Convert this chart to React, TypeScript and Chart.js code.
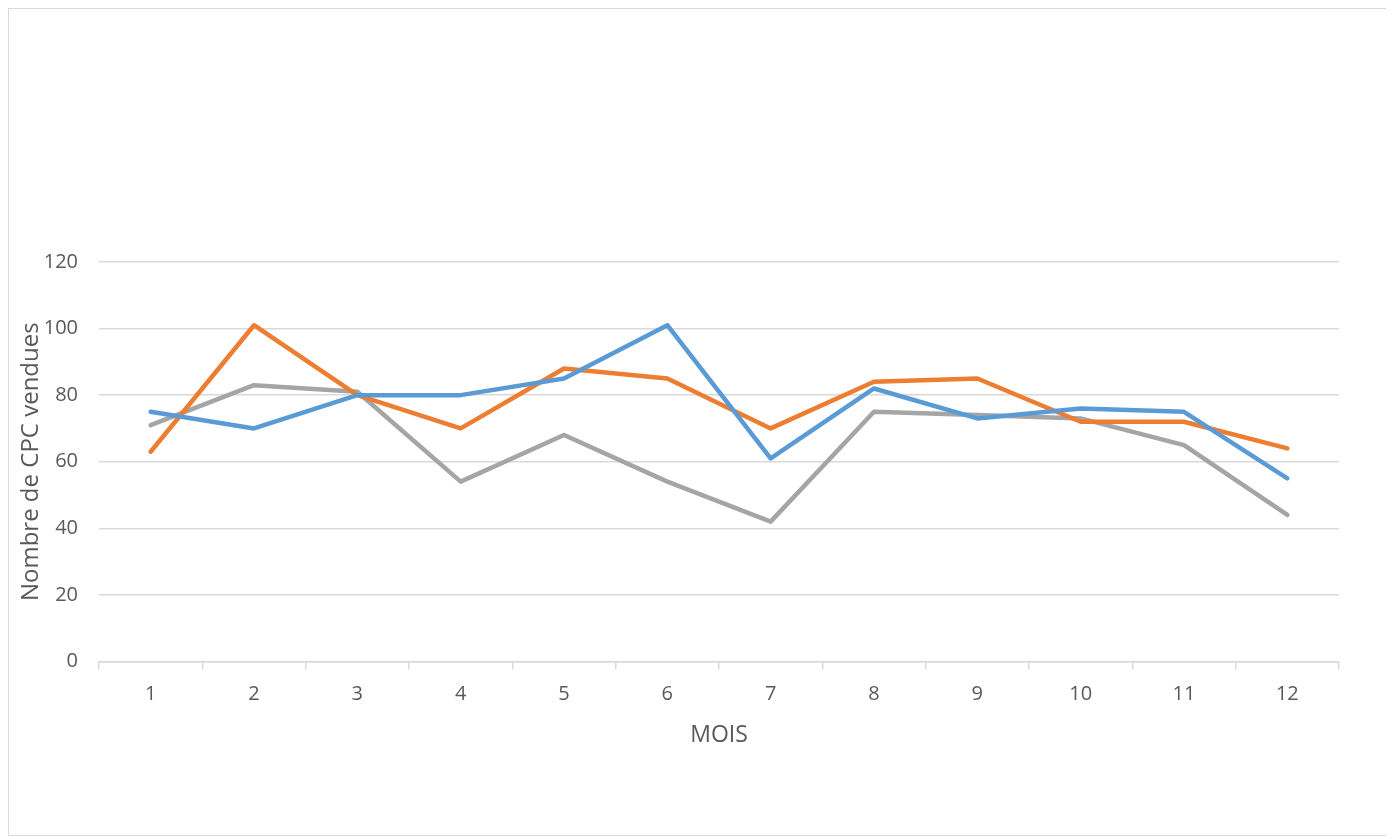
import React, { useEffect, useRef } from "react";
import { Chart, registerables } from "chart.js";

Chart.register(...registerables);

const months = ["1", "2", "3", "4", "5", "6", "7", "8", "9", "10", "11", "12"];
const seriesBlue = [75, 70, 80, 80, 85, 101, 61, 82, 73, 76, 75, 55];
const seriesOrange = [63, 101, 80, 70, 88, 85, 70, 84, 85, 72, 72, 64];
const seriesGray = [71, 83, 81, 54, 68, 54, 42, 75, 74, 73, 65, 44];
const yTitle = "Nombre de CPC vendues";
const xTitle = "MOIS";

export default function App() {
  const ref = useRef<HTMLCanvasElement | null>(null);
  useEffect(() => {
    if (!ref.current) return;
    const family = "'Open Sans', 'Liberation Sans', sans-serif";
    const tickFont = { family, size: 20 };
    const chart = new Chart(ref.current, {
      type: "line",
      data: {
        labels: months,
        datasets: [
          { label: "A", data: seriesBlue, borderColor: "#5b9bd5", backgroundColor: "#5b9bd5" },
          { label: "B", data: seriesOrange, borderColor: "#ed7d31", backgroundColor: "#ed7d31" },
          { label: "C", data: seriesGray, borderColor: "#a5a5a5", backgroundColor: "#a5a5a5" },
        ],
      },
      options: {
        responsive: false,
        animation: false,
        layout: { padding: { top: 253, right: 51, bottom: 86, left: 8 } },
        elements: {
          line: { borderWidth: 4.5, tension: 0, borderCapStyle: "round", borderJoinStyle: "round" },
          point: { radius: 0, hoverRadius: 0 },
        },
        plugins: { legend: { display: false }, tooltip: { enabled: false } },
        scales: {
          x: {
            offset: true,
            grid: { offset: true, drawOnChartArea: false, color: "#d9d9d9", tickLength: 8, lineWidth: 1.5 },
            border: { color: "#d9d9d9", width: 1.5 },
            ticks: { color: "#595959", font: tickFont, padding: 13, maxRotation: 0 },
            title: { display: true, text: xTitle, color: "#595959", font: { family, size: 23 }, padding: { top: 2, bottom: 0 } },
          },
          y: {
            min: 0,
            max: 120,
            ticks: { stepSize: 20, color: "#595959", font: tickFont, padding: 21 },
            grid: { color: "#d9d9d9", lineWidth: 1.5, drawTicks: false },
            border: { display: false },
            title: { display: true, text: yTitle, color: "#595959", font: { family, size: 24 }, padding: 0 },
            afterFit: (s: any) => { s.width = 82; },
          },
        },
      },
    });
    return () => chart.destroy();
  }, []);
  return (
    <div style={{ width: 1381, height: 826, border: "1.5px solid #d9d9d9", background: "#fff" }}>
      <canvas ref={ref} width={1381} height={826} style={{ display: "block" }} />
    </div>
  );
}
